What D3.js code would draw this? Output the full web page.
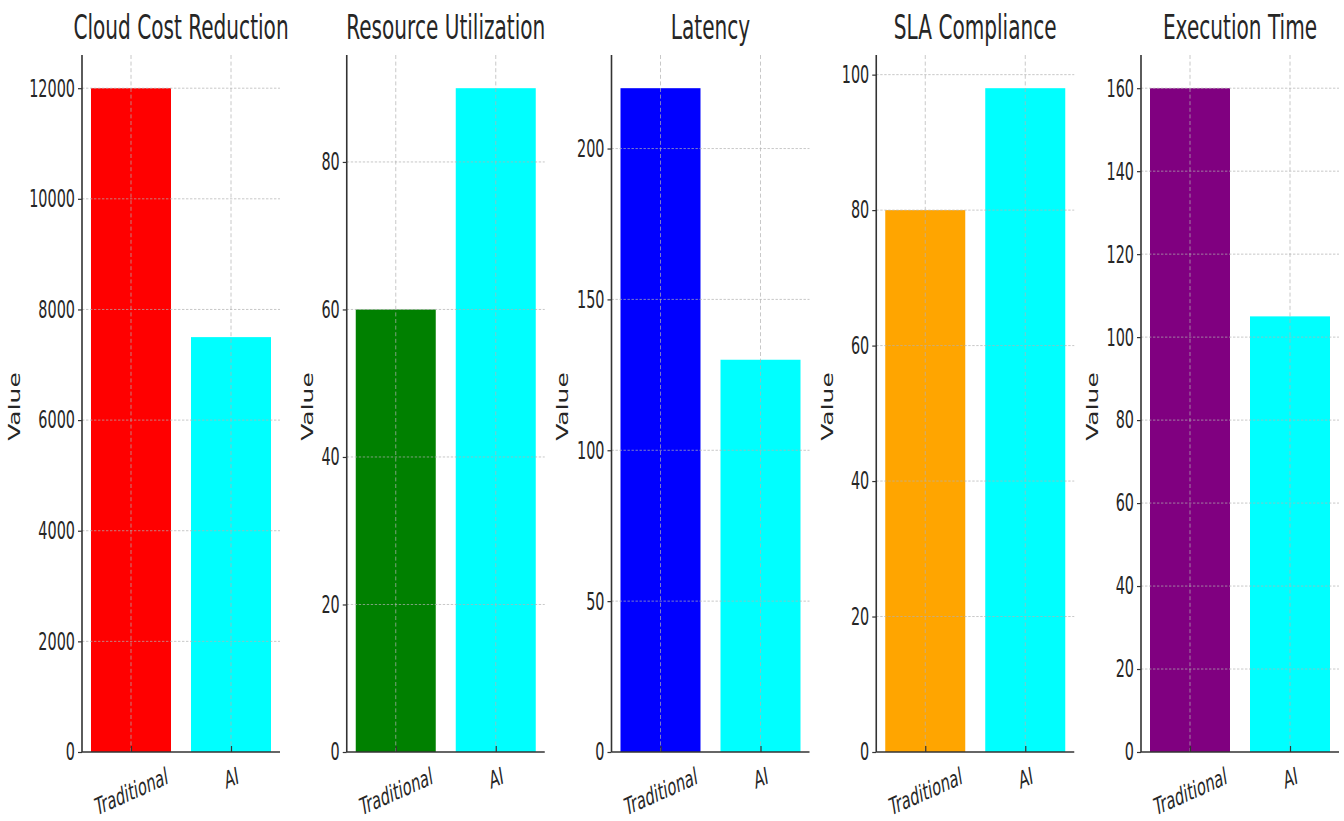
<!DOCTYPE html>
<html>
<head>
<meta charset="utf-8">
<script src="https://cdn.jsdelivr.net/npm/d3@7"></script>
<style>
  body { margin: 0; background: #fff; }
  svg { display: block; }
  text { font-family: "DejaVu Sans", sans-serif; fill: #262626; }
</style>
</head>
<body>
<svg id="chart" width="1344" height="821"></svg>
<script>
const titles = ["Cloud Cost Reduction", "Resource Utilization", "Latency", "SLA Compliance", "Execution Time"];
const categories = ["Traditional", "AI"];
const traditionalValues = [12000, 60, 220, 80, 160];
const aiValues = [7500, 90, 130, 98, 105];
const traditionalColors = ["#ff0000", "#008000", "#0000ff", "#ffa500", "#800080"];
const aiColor = "#00ffff";
const yTickValues = [
  [0, 2000, 4000, 6000, 8000, 10000, 12000],
  [0, 20, 40, 60, 80],
  [0, 50, 100, 150, 200],
  [0, 20, 40, 60, 80, 100],
  [0, 20, 40, 60, 80, 100, 120, 140, 160]
];
const yLabel = "Value";

const svg = d3.select("#chart");
const SX = 0.6;              // horizontal squeeze of the reference image
const firstLeft = 82, step = 264.75, plotW = 198;
const plotTop = 55, plotBottom = 752;
const titleFont = 33.5, tickFont = 24, labelFont = 25;

titles.forEach((title, i) => {
  const vals = [traditionalValues[i], aiValues[i]];
  const cols = [traditionalColors[i], aiColor];
  const maxV = d3.max(vals);
  const g = svg.append("g").attr("transform", `translate(${firstLeft + i * step},0)`);

  const x = d3.scaleLinear().domain([-0.49, 1.49]).range([0, plotW]);
  const y = d3.scaleLinear().domain([0, maxV * 1.05]).range([plotBottom, plotTop]);

  // bars
  g.selectAll("rect.bar").data(vals).join("rect")
    .attr("class", "bar")
    .attr("x", (d, j) => x(j - 0.4))
    .attr("width", (d, j) => x(j + 0.4) - x(j - 0.4))
    .attr("y", d => y(d))
    .attr("height", d => y(0) - y(d))
    .attr("fill", (d, j) => cols[j]);

  // grid (drawn over bars)
  g.selectAll("line.hgrid").data(yTickValues[i].filter(t => t > 0)).join("line")
    .attr("x1", 0).attr("x2", plotW)
    .attr("y1", d => y(d)).attr("y2", d => y(d))
    .attr("stroke", "#b0b0b0").attr("stroke-opacity", 0.7)
    .attr("stroke-width", 1).attr("stroke-dasharray", "2.4,1.6");
  g.selectAll("line.vgrid").data([0, 1]).join("line")
    .attr("x1", d => x(d)).attr("x2", d => x(d))
    .attr("y1", plotTop).attr("y2", plotBottom)
    .attr("stroke", "#b0b0b0").attr("stroke-opacity", 0.7)
    .attr("stroke-width", 1).attr("stroke-dasharray", "4,2.6");

  // y axis
  const yAxis = d3.axisLeft(y).tickValues(yTickValues[i]).tickSize(4).tickPadding(3).tickFormat(d3.format("d"));
  const ya = g.append("g").call(yAxis);
  ya.select(".domain").remove();
  ya.selectAll(".tick line").attr("stroke", "#333").attr("stroke-width", 1.2);
  ya.selectAll(".tick text")
    .attr("x", null).attr("dy", null)
    .attr("text-anchor", "end")
    .attr("dominant-baseline", "central")
    .attr("font-size", tickFont)
    .attr("fill", "#262626")
    .attr("transform", `translate(-7,0) scale(${SX},1)`);

  // x axis
  const xAxis = d3.axisBottom(x).tickValues([0, 1]).tickSize(-6).tickFormat(j => categories[j]);
  const xa = g.append("g").attr("transform", `translate(0,${plotBottom})`).call(xAxis);
  xa.select(".domain").remove();
  xa.selectAll(".tick line").attr("stroke", "#333").attr("stroke-width", 1.2);
  xa.selectAll(".tick text").each(function(j) {
    const t = d3.select(this);
    const lenPx = (j === 0 ? 5.35 : 0.98) * tickFont;
    const ext = lenPx * Math.sin(15 * Math.PI / 180) + tickFont * 1.15 * Math.cos(15 * Math.PI / 180);
    t.attr("y", null).attr("dy", null)
      .attr("text-anchor", "middle")
      .attr("dominant-baseline", "central")
      .attr("font-size", tickFont)
      .attr("fill", "#262626")
      .attr("transform", `translate(0,${10 + ext / 2}) scale(${SX},1) rotate(-15)`);
  });

  // spines
  g.append("line").attr("x1", 0).attr("x2", 0).attr("y1", plotTop).attr("y2", plotBottom)
    .attr("stroke", "#333").attr("stroke-width", 1.6);
  g.append("line").attr("x1", 0).attr("x2", plotW).attr("y1", plotBottom).attr("y2", plotBottom)
    .attr("stroke", "#333").attr("stroke-width", 1.6);

  // y label
  const bb = ya.node().getBBox();
  g.append("text")
    .attr("text-anchor", "middle")
    .attr("dominant-baseline", "central")
    .attr("font-size", labelFont)
    .attr("transform", `translate(${bb.x - 14},${(plotTop + plotBottom) / 2 + 3}) scale(${SX},1) rotate(-90)`)
    .text(yLabel);

  // title
  g.append("text")
    .attr("text-anchor", "middle")
    .attr("font-size", titleFont)
    .attr("transform", `translate(${plotW / 2},39) scale(${SX},1)`)
    .text(title);
});
</script>
</body>
</html>
